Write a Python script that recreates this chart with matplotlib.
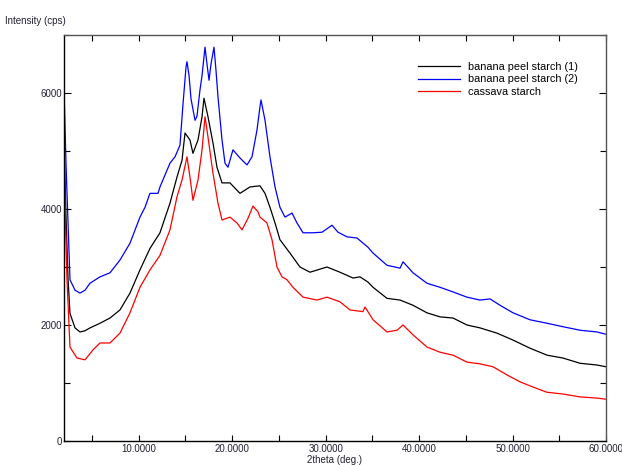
import matplotlib
matplotlib.use("Agg")
import matplotlib.pyplot as plt
from matplotlib.ticker import MultipleLocator, FixedLocator

plt.rcParams['font.family'] = ['Liberation Sans', 'DejaVu Sans']

# ---- data ----
blue_x = [2.0, 2.21, 2.64, 3.18, 3.71, 4.25, 4.78, 5.85, 6.92, 7.99, 9.06, 10.13, 10.67,
          11.20, 12.06, 12.27, 13.34, 13.88, 14.41, 14.73, 15.06, 15.16, 15.38, 15.59,
          16.02, 16.23, 16.55, 16.77, 17.09, 17.30, 17.52, 17.73, 18.05, 18.26, 18.48,
          18.91, 19.23, 19.55, 20.08, 20.83, 21.58, 22.12, 22.65, 22.97, 23.08, 23.51,
          24.04, 24.58, 25.11, 25.65, 26.40, 26.93, 27.58, 28.65, 29.61, 30.68, 31.32,
          32.28, 33.35, 34.53, 35.07, 36.56, 37.96, 38.28, 39.35, 40.84, 42.24, 43.63,
          45.12, 46.52, 47.59, 48.66, 50.05, 51.87, 53.69, 55.40, 57.22, 59.04, 60.0]
blue_y = [6100, 4800, 2780, 2600, 2550, 2600, 2720, 2830, 2900, 3120, 3410, 3860, 4030,
          4270, 4270, 4380, 4790, 4900, 5100, 5800, 6450, 6540, 6300, 5900,
          5530, 5600, 6050, 6300, 6790, 6500, 6220, 6500, 6790, 6400, 5930,
          5190, 4790, 4720, 5020, 4880, 4760, 4900, 5360, 5760, 5880, 5530,
          4900, 4380, 4030, 3860, 3930, 3760, 3590, 3590, 3600, 3720, 3600,
          3520, 3500, 3340, 3240, 3030, 2980, 3090, 2900, 2720, 2650, 2570,
          2480, 2430, 2450, 2340, 2210, 2090, 2030, 1970, 1910, 1880, 1840]

black_x = [2.0, 2.21, 2.43, 2.64, 3.18, 3.71, 4.25, 4.78, 5.85, 6.92, 7.99, 9.06, 10.13,
           11.20, 12.27, 13.34, 14.09, 14.63, 14.95, 15.48, 15.80, 16.34, 16.77, 16.98,
           17.41, 17.94, 18.37, 18.91, 19.76, 20.83, 21.90, 22.97, 23.51, 24.04, 24.58,
           25.11, 26.18, 27.25, 28.32, 30.14, 31.53, 32.93, 33.67, 34.53, 35.07, 36.56,
           37.96, 39.35, 40.84, 42.24, 43.63, 45.12, 46.52, 48.33, 50.05, 51.87, 53.69,
           55.40, 57.22, 59.04, 60.0]
black_y = [5200, 3900, 2800, 2200, 1950, 1880, 1900, 1950, 2030, 2120, 2260, 2550, 2950,
           3320, 3590, 4100, 4550, 4840, 5310, 5190, 4960, 5190, 5590, 5910,
           5590, 5140, 4720, 4450, 4450, 4270, 4380, 4400, 4270, 4030, 3760,
           3470, 3240, 3000, 2910, 3000, 2910, 2810, 2830, 2740, 2650, 2460,
           2430, 2340, 2210, 2140, 2120, 2000, 1950, 1860, 1740, 1600, 1480,
           1430, 1340, 1310, 1280]

red_x = [2.0, 2.32, 2.64, 3.39, 4.25, 5.10, 5.85, 6.92, 7.99, 9.06, 10.13, 11.20, 12.27,
         13.34, 14.09, 14.63, 15.16, 15.48, 15.80, 16.34, 16.77, 17.09, 17.41, 17.94,
         18.48, 18.91, 19.76, 20.51, 21.05, 21.69, 22.22, 22.76, 22.97, 23.72, 24.26,
         24.79, 25.33, 25.86, 26.50, 27.58, 29.07, 30.14, 31.53, 32.60, 33.99, 34.21,
         35.07, 36.56, 37.63, 38.28, 39.35, 40.84, 42.24, 43.63, 45.12, 46.52, 47.91,
         49.40, 50.80, 52.19, 53.69, 55.40, 57.22, 59.04, 60.0]
red_y = [4750, 2780, 1620, 1430, 1400, 1570, 1690, 1690, 1860, 2210, 2650, 2950, 3200,
         3640, 4210, 4500, 4900, 4550, 4150, 4500, 5020, 5590, 5240, 4620,
         4100, 3810, 3860, 3760, 3640, 3840, 4050, 3950, 3860, 3760, 3470,
         3000, 2830, 2780, 2650, 2480, 2430, 2480, 2400, 2260, 2230, 2310,
         2090, 1880, 1910, 2000, 1830, 1620, 1530, 1480, 1360, 1330, 1280,
         1140, 1020, 930, 840, 810, 760, 740, 720]

labels = ['banana peel starch (1)', 'banana peel starch (2)', 'cassava starch']
x_major = [10, 20, 30, 40, 50, 60]
x_major_labels = ['10.0000', '20.0000', '30.0000', '40.0000', '50.0000', '60.0000']
y_major = [0, 2000, 4000, 6000]
y_major_labels = ['0', '2000', '4000', '6000']

# ---- figure ----
W, H = 622, 465
fig = plt.figure(figsize=(W / 100, H / 100), dpi=100)
ax = fig.add_axes([64 / W, 1 - 441 / H, (606 - 64) / W, (441 - 35) / H])

ax.plot(black_x, black_y, color='#000000', lw=0.9, label=labels[0])
ax.plot(blue_x, blue_y, color='#0000ff', lw=0.9, label=labels[1])
ax.plot(red_x, red_y, color='#ff0000', lw=0.9, label=labels[2])

ax.set_xlim(2, 60)
ax.set_ylim(0, 7000)

ax.xaxis.set_major_locator(FixedLocator(x_major))
ax.set_xticklabels(x_major_labels)
ax.xaxis.set_minor_locator(MultipleLocator(5))
ax.yaxis.set_major_locator(FixedLocator(y_major))
ax.set_yticklabels(y_major_labels)
ax.yaxis.set_minor_locator(MultipleLocator(1000))

ax.tick_params(axis='x', which='both', direction='in', length=4, width=0.8,
               top=True, labelsize=7, pad=2.5, labelcolor='#222233')
ax.tick_params(axis='y', which='major', direction='in', length=5, width=0.8,
               right=True, labelsize=7, pad=1.5, labelcolor='#222233')
ax.tick_params(axis='y', which='minor', direction='in', length=4, width=0.8,
               right=True)

for s in ['left', 'bottom']:
    ax.spines[s].set_color('#000000')
    ax.spines[s].set_linewidth(1.0)
for s in ['top', 'right']:
    ax.spines[s].set_color('#555555')
    ax.spines[s].set_linewidth(1.0)

leg = ax.legend(loc='upper left', bbox_to_anchor=(418 / W, 1 - 62 / H),
                bbox_transform=fig.transFigure, frameon=False, fontsize=7.8,
                handlelength=3.85, handletextpad=0.75, labelspacing=0.22,
                borderpad=0, borderaxespad=0)

fig.text(66 / W, 1 - 21 / H, 'Intensity (cps)', ha='right', va='center',
         fontsize=7, color='#222233')
fig.text(335 / W, 1 - 460 / H, '2theta (deg.)', ha='center', va='center',
         fontsize=7, color='#222233')

fig.savefig('out.png', dpi=100)
